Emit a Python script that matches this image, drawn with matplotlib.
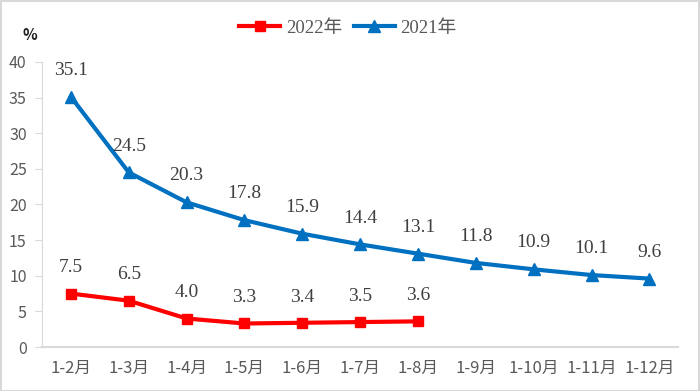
import matplotlib.pyplot as plt
from matplotlib.patches import Rectangle

plt.rcParams['font.family'] = ['Noto Sans CJK SC', 'DejaVu Sans']

cats = ["1-2月", "1-3月", "1-4月", "1-5月", "1-6月", "1-7月",
        "1-8月", "1-9月", "1-10月", "1-11月", "1-12月"]
y2022 = [7.5, 6.5, 4.0, 3.3, 3.4, 3.5, 3.6]
y2021 = [35.1, 24.5, 20.3, 17.8, 15.9, 14.4, 13.1, 11.8, 10.9, 10.1, 9.6]
yticks = [0, 5, 10, 15, 20, 25, 30, 35, 40]

red = "#FF0000"
blue = "#0070C0"
txt = "#595959"

fig = plt.figure(figsize=(7, 3.91), dpi=100)
ax = fig.add_axes([0.06, 0.1125, 0.909, 0.729])

x22 = list(range(len(y2022)))
x21 = list(range(len(y2021)))
ax.plot(x22, y2022, color=red, lw=3, marker="s", ms=7, label="2022年", zorder=3)
ax.plot(x21, y2021, color=blue, lw=3, marker="^", ms=8, label="2021年", zorder=3)

for x, v in zip(x21, y2021):
    ax.annotate(f"{v:.1f}", (x, v), xytext=(0, 19), textcoords="offset points",
                ha="center", va="center", fontsize=14, color="#404040",
                family=["Liberation Serif"])
for x, v in zip(x22, y2022):
    ax.annotate(f"{v:.1f}", (x, v), xytext=(0, 18.5), textcoords="offset points",
                ha="center", va="center", fontsize=14, color="#404040",
                family=["Liberation Serif"])

ax.set_xlim(-0.5, len(cats) - 0.5)
ax.set_ylim(0, 40)
ax.set_xticks(x21)
ax.set_xticklabels(cats, fontsize=12, color=txt)
ax.set_yticks(yticks)
ax.set_yticklabels([str(t) for t in yticks], fontsize=11.5, color=txt)
ax.tick_params(axis="x", length=0, pad=9)
ax.tick_params(axis="y", length=5, color="#D9D9D9", pad=6)

for s in ["top", "right"]:
    ax.spines[s].set_visible(False)
ax.spines["left"].set_color("#D9D9D9")
ax.spines["bottom"].set_color("#D9D9D9")
ax.spines["bottom"].set_linewidth(1.5)

fig.text(0.043, 0.91, "%", fontsize=11, fontweight="bold", color="#202020",
         ha="center", va="center")

leg = fig.legend(loc="center", bbox_to_anchor=(0.497, 0.928), ncol=2, frameon=False,
                 handlelength=2.2, columnspacing=0.6, handletextpad=0.3,
                 prop={"family": ["Liberation Serif", "Noto Sans CJK SC"], "size": 13.5})
for t in leg.get_texts():
    t.set_color(txt)

fig.patches.append(Rectangle((0.001, 0.001), 0.997, 0.996, transform=fig.transFigure,
                             fill=False, edgecolor="#D9D9D9", lw=1.5))

fig.savefig("out.png", dpi=100)
